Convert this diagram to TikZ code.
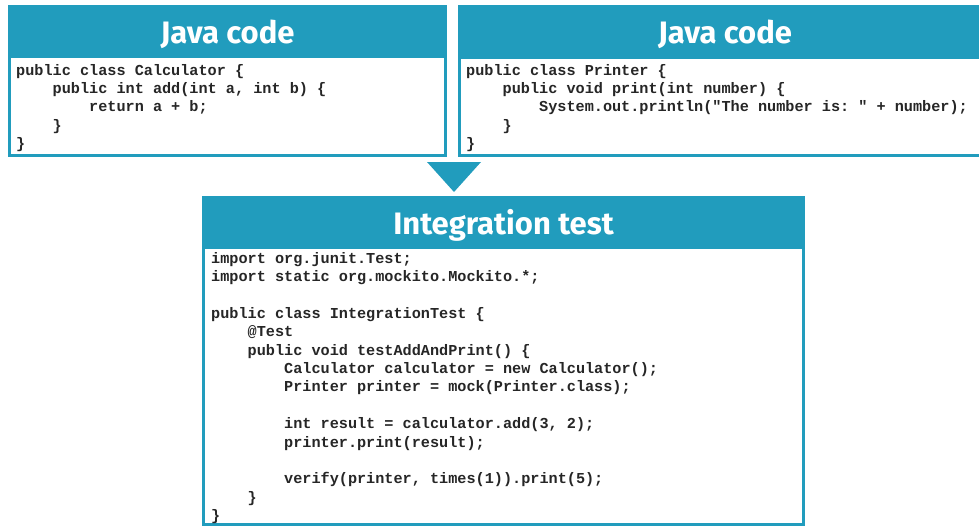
\documentclass[tikz,border=0pt]{standalone}
\usepackage{fontspec}
\setmainfont{Fira Sans}
\setmonofont{Liberation Mono}
\definecolor{boxteal}{HTML}{219CBD}

% one line of code: name, left x, first baseline, line index, indent (chars), text
\newcommand\codeln[6]{\node[code] (#1) at ({#2+#5*9.12},{#3+#4*18.35}) {#6};}

\begin{document}
\begin{tikzpicture}[x=1pt,y=-1pt,
  title/.style={text=white,inner sep=0pt,anchor=base,
    font=\bfseries\fontsize{31}{32}\selectfont},
  code/.style={anchor=base west,inner sep=0pt,text=black!85,
    font=\ttfamily\bfseries\fontsize{15.2}{18}\selectfont}]
\useasboundingbox (0,0) rectangle (979,525);
\clip (0,0) rectangle (979,525);

% Calculator panel
\fill[boxteal] (8,5) rectangle (447,157);
\fill[white] (11,58) rectangle (444,154);
\node[title] (calcTitle) at (227.5,43) {Java code};
\codeln{calcA}{16}{75}{0}{0}{public class Calculator \{}
\codeln{calcB}{16}{75}{1}{4}{public int add(int a, int b) \{}
\codeln{calcC}{16}{75}{2}{8}{return a + b;}
\codeln{calcD}{16}{75}{3}{4}{\}}
\codeln{calcE}{16}{75}{4}{0}{\}}

% Printer panel
\fill[boxteal] (458,5) rectangle (992,157);
\fill[white] (461,59) rectangle (989,154);
\node[title] (prnTitle) at (725,43) {Java code};
\codeln{prnA}{466}{75}{0}{0}{public class Printer \{}
\codeln{prnB}{466}{75}{1}{4}{public void print(int number) \{}
\codeln{prnC}{466}{75}{2}{8}{System.out.println("The number is: " + number);}
\codeln{prnD}{466}{75}{3}{4}{\}}
\codeln{prnE}{466}{75}{4}{0}{\}}

% arrow head joining the panels
\coordinate (arrL) at (427,162);
\coordinate (arrR) at (481,162);
\coordinate (arrT) at (454,192);
\fill[boxteal] (arrL) -- (arrR) -- (arrT) -- cycle;

% Integration test panel
\fill[boxteal] (202,196) rectangle (805,528);
\fill[white] (205,249) rectangle (802,523);
\node[title] (itTitle) at (503.5,234) {Integration test};
\codeln{itA}{211}{263.5}{0}{0}{import org.junit.Test;}
\codeln{itB}{211}{263.5}{1}{0}{import static org.mockito.Mockito.*;}
\codeln{itC}{211}{263.5}{3}{0}{public class IntegrationTest \{}
\codeln{itD}{211}{263.5}{4}{4}{@Test}
\codeln{itE}{211}{263.5}{5}{4}{public void testAddAndPrint() \{}
\codeln{itF}{211}{263.5}{6}{8}{Calculator calculator = new Calculator();}
\codeln{itG}{211}{263.5}{7}{8}{Printer printer = mock(Printer.class);}
\codeln{itH}{211}{263.5}{9}{8}{int result = calculator.add(3, 2);}
\codeln{itI}{211}{263.5}{10}{8}{printer.print(result);}
\codeln{itJ}{211}{263.5}{12}{8}{verify(printer, times(1)).print(5);}
\codeln{itK}{211}{263.5}{13}{4}{\}}
\codeln{itL}{211}{263.5}{14}{0}{\}}
\end{tikzpicture}
\end{document}
